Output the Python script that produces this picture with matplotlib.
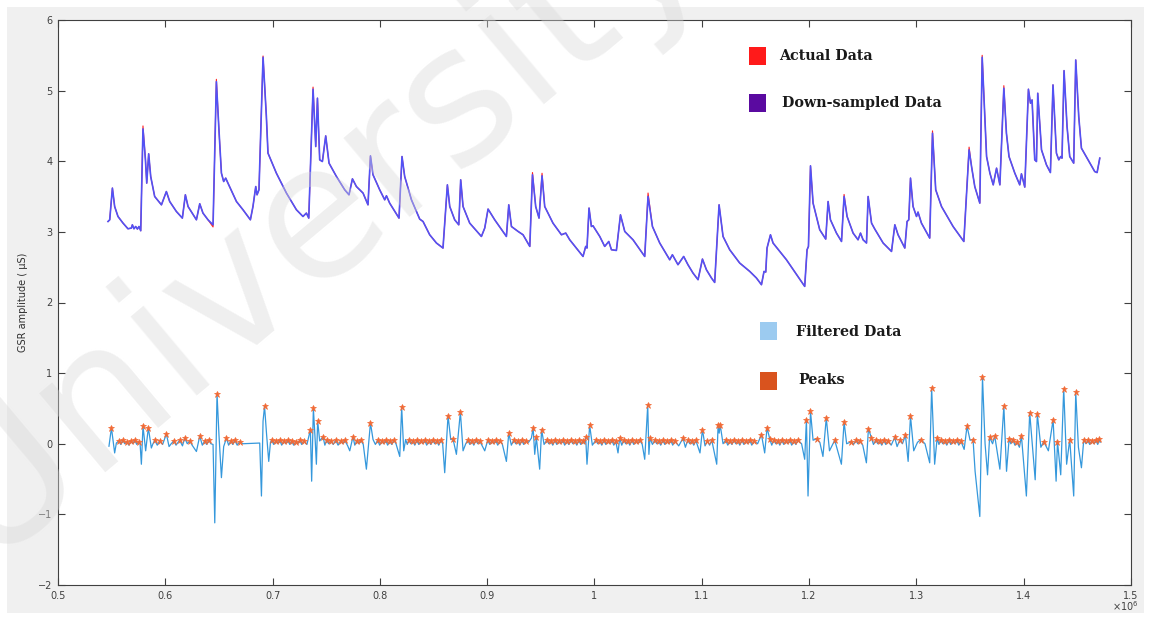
import numpy as np
import matplotlib
matplotlib.use("Agg")
import matplotlib.pyplot as plt
from matplotlib.patches import Rectangle

# GSR signal (x in units of 1e6 samples, y in uS)
gsr_x = [0.5466, 0.5482, 0.5507, 0.5528, 0.5559, 0.5606, 0.5652, 0.5684, 0.5693, 0.5708,
         0.5724, 0.5740, 0.5755, 0.5771, 0.5792, 0.5815, 0.5827, 0.5845, 0.5864, 0.5901,
         0.5964, 0.6010, 0.6041, 0.6103, 0.6159, 0.6187, 0.6212, 0.6290, 0.6321, 0.6351,
         0.6398, 0.6445, 0.6476, 0.6500, 0.6523, 0.6544, 0.6563, 0.6584, 0.6663, 0.6724,
         0.6793, 0.6817, 0.6843, 0.6855, 0.6873, 0.6911, 0.6942, 0.6957, 0.7035, 0.7129,
         0.7222, 0.7283, 0.7315, 0.7337, 0.7377, 0.7402, 0.7418, 0.7439, 0.7464, 0.7495,
         0.7526, 0.7595, 0.7672, 0.7712, 0.7744, 0.7781, 0.7843, 0.7889, 0.7912, 0.7936,
         0.7998, 0.8045, 0.8061, 0.8091, 0.8178, 0.8206, 0.8231, 0.8294, 0.8371, 0.8402,
         0.8464, 0.8527, 0.8588, 0.8629, 0.8651, 0.8697, 0.8735, 0.8753, 0.8775, 0.8837,
         0.8946, 0.8977, 0.9008, 0.9070, 0.9179, 0.9201, 0.9226, 0.9288, 0.9334, 0.9397,
         0.9422, 0.9452, 0.9483, 0.9511, 0.9536, 0.9613, 0.9692, 0.9732, 0.9769, 0.9893,
         0.9918, 0.9930, 0.9949, 0.9971, 0.9986, 1.0049, 1.0095, 1.0133, 1.0158, 1.0204,
         1.0242, 1.0282, 1.0359, 1.0468, 1.0499, 1.0540, 1.0608, 1.0701, 1.0726, 1.0778,
         1.0831, 1.0871, 1.0918, 1.0965, 1.1006, 1.1043, 1.1090, 1.1120, 1.1161, 1.1198,
         1.1260, 1.1353, 1.1447, 1.1509, 1.1556, 1.1580, 1.1596, 1.1608, 1.1640, 1.1664,
         1.1789, 1.1959, 1.1981, 1.1994, 1.2013, 1.2037, 1.2099, 1.2155, 1.2177, 1.2199,
         1.2255, 1.2302, 1.2326, 1.2354, 1.2410, 1.2456, 1.2479, 1.2503, 1.2535, 1.2550,
         1.2582, 1.2612, 1.2690, 1.2768, 1.2799, 1.2829, 1.2892, 1.2913, 1.2929, 1.2945,
         1.2969, 1.3001, 1.3015, 1.3047, 1.3124, 1.3150, 1.3180, 1.3234, 1.3342, 1.3442,
         1.3491, 1.3514, 1.3544, 1.3591, 1.3613, 1.3638, 1.3654, 1.3685, 1.3716, 1.3747,
         1.3778, 1.3815, 1.3839, 1.3863, 1.3917, 1.3963, 1.3979, 1.4010, 1.4044, 1.4063,
         1.4078, 1.4103, 1.4119, 1.4131, 1.4166, 1.4212, 1.4249, 1.4273, 1.4305, 1.4327,
         1.4345, 1.4357, 1.4376, 1.4404, 1.4429, 1.4466, 1.4485, 1.4513, 1.4538, 1.4600,
         1.4662, 1.4684, 1.4709]
gsr_y = [3.147, 3.171, 3.620, 3.359, 3.218, 3.124, 3.044, 3.054, 3.100, 3.044,
         3.076, 3.040, 3.076, 3.016, 4.458, 4.020, 3.690, 4.105, 3.784, 3.501,
         3.383, 3.571, 3.430, 3.289, 3.195, 3.525, 3.359, 3.171, 3.398, 3.266,
         3.171, 3.100, 5.127, 4.444, 3.832, 3.713, 3.761, 3.690, 3.430, 3.313,
         3.171, 3.359, 3.642, 3.525, 3.596, 5.472, 4.632, 4.115, 3.832, 3.549,
         3.313, 3.218, 3.266, 3.195, 5.020, 4.208, 4.893, 4.020, 3.996, 4.359,
         3.973, 3.784, 3.596, 3.525, 3.751, 3.642, 3.549, 3.383, 4.076, 3.808,
         3.596, 3.454, 3.511, 3.407, 3.195, 4.067, 3.784, 3.454, 3.181, 3.147,
         2.959, 2.842, 2.771, 3.666, 3.359, 3.171, 3.100, 3.737, 3.359, 3.124,
         2.935, 3.054, 3.323, 3.171, 2.935, 3.383, 3.076, 3.006, 2.959, 2.794,
         3.808, 3.359, 3.195, 3.794, 3.359, 3.124, 2.959, 2.983, 2.888, 2.652,
         2.794, 2.771, 3.337, 3.076, 3.086, 2.935, 2.794, 2.864, 2.747, 2.737,
         3.242, 3.006, 2.888, 2.652, 3.501, 3.076, 2.842, 2.605, 2.676, 2.535,
         2.652, 2.535, 2.417, 2.323, 2.615, 2.464, 2.347, 2.284, 3.383, 2.935,
         2.747, 2.559, 2.440, 2.347, 2.252, 2.440, 2.431, 2.771, 2.959, 2.842,
         2.605, 2.228, 2.747, 2.794, 3.935, 3.407, 3.030, 2.898, 3.430, 3.171,
         2.983, 2.864, 3.501, 3.218, 2.983, 2.888, 2.983, 2.888, 2.842, 3.501,
         3.124, 3.040, 2.842, 2.723, 3.100, 2.959, 2.771, 3.147, 3.171, 3.761,
         3.359, 3.218, 3.280, 3.124, 2.912, 4.397, 3.596, 3.359, 3.076, 2.864,
         4.161, 3.925, 3.642, 3.407, 5.472, 4.632, 4.067, 3.832, 3.666, 3.902,
         3.666, 5.034, 4.397, 4.067, 3.832, 3.666, 3.822, 3.634, 5.020, 4.822,
         4.868, 4.020, 3.996, 4.963, 4.161, 3.949, 3.840, 5.081, 4.115, 4.020,
         4.067, 4.044, 5.283, 4.491, 4.067, 3.973, 5.434, 4.632, 4.185, 4.020,
         3.854, 3.840, 4.044]

# tips where the full-rate (actual) data sits above the down-sampled one
actual_tip_x = [0.5792, 0.6445, 0.6476, 0.6911, 0.7377, 0.9422, 0.9511, 1.0499,
                1.2326, 1.3150, 1.3491, 1.3613, 1.3815]
actual_tip_y = [4.50, 3.07, 5.16, 5.49, 5.05, 3.84, 3.83, 3.55,
                3.53, 4.43, 4.20, 5.50, 5.07]

# peaks found on the filtered signal
peak_x = [0.5498, 0.5566, 0.5603, 0.5641, 0.5678, 0.5715, 0.5752, 0.5792, 0.5842, 0.5902,
          0.5948, 0.6010, 0.6079, 0.6134, 0.6181, 0.6228, 0.6321, 0.6367, 0.6405, 0.6482,
          0.6570, 0.6610, 0.6647, 0.6694, 0.6925, 0.6992, 0.7029, 0.7066, 0.7104, 0.7141,
          0.7178, 0.7215, 0.7253, 0.7290, 0.7352, 0.7380, 0.7420, 0.7470, 0.7504, 0.7541,
          0.7588, 0.7635, 0.7672, 0.7749, 0.7784, 0.7821, 0.7912, 0.7979, 0.8017, 0.8054,
          0.8091, 0.8129, 0.8203, 0.8269, 0.8306, 0.8343, 0.8381, 0.8418, 0.8455, 0.8492,
          0.8530, 0.8567, 0.8635, 0.8681, 0.8750, 0.8819, 0.8856, 0.8893, 0.8930, 0.9005,
          0.9042, 0.9079, 0.9117, 0.9201, 0.9247, 0.9285, 0.9322, 0.9359, 0.9428, 0.9458,
          0.9507, 0.9555, 0.9592, 0.9630, 0.9667, 0.9704, 0.9741, 0.9779, 0.9816, 0.9853,
          0.9890, 0.9918, 0.9955, 1.0012, 1.0049, 1.0086, 1.0124, 1.0161, 1.0198, 1.0235,
          1.0273, 1.0310, 1.0347, 1.0385, 1.0422, 1.0496, 1.0517, 1.0561, 1.0598, 1.0636,
          1.0673, 1.0710, 1.0747, 1.0825, 1.0869, 1.0906, 1.0944, 1.1006, 1.1053, 1.1093,
          1.1152, 1.1171, 1.1223, 1.1261, 1.1298, 1.1335, 1.1373, 1.1410, 1.1447, 1.1484,
          1.1556, 1.1608, 1.1633, 1.1670, 1.1708, 1.1745, 1.1782, 1.1820, 1.1857, 1.1894,
          1.1975, 1.2013, 1.2069, 1.2160, 1.2239, 1.2326, 1.2395, 1.2435, 1.2472, 1.2553,
          1.2581, 1.2621, 1.2658, 1.2696, 1.2733, 1.2798, 1.2845, 1.2898, 1.2945, 1.3041,
          1.3142, 1.3193, 1.3227, 1.3264, 1.3302, 1.3339, 1.3376, 1.3414, 1.3472, 1.3528,
          1.3616, 1.3682, 1.3730, 1.3815, 1.3864, 1.3898, 1.3938, 1.3979, 1.4056, 1.4127,
          1.4187, 1.4274, 1.4315, 1.4373, 1.4429, 1.4485, 1.4560, 1.4597, 1.4635, 1.4672,
          1.4703]
peak_y = [0.225, 0.04, 0.05, 0.03, 0.04, 0.05, 0.03, 0.25, 0.225, 0.05,
          0.04, 0.14, 0.04, 0.05, 0.08, 0.04, 0.11, 0.04, 0.05, 0.705,
          0.08, 0.04, 0.05, 0.03, 0.53, 0.05, 0.04, 0.05, 0.04, 0.05,
          0.04, 0.03, 0.05, 0.04, 0.20, 0.50, 0.32, 0.10, 0.05, 0.04,
          0.05, 0.04, 0.05, 0.10, 0.04, 0.05, 0.295, 0.05, 0.04, 0.05,
          0.04, 0.05, 0.52, 0.05, 0.04, 0.05, 0.04, 0.05, 0.04, 0.05,
          0.04, 0.05, 0.40, 0.07, 0.45, 0.05, 0.04, 0.05, 0.04, 0.05,
          0.04, 0.05, 0.04, 0.15, 0.05, 0.04, 0.05, 0.04, 0.225, 0.09,
          0.20, 0.05, 0.04, 0.05, 0.04, 0.05, 0.04, 0.05, 0.04, 0.05,
          0.04, 0.09, 0.26, 0.05, 0.04, 0.05, 0.04, 0.05, 0.04, 0.08,
          0.05, 0.04, 0.05, 0.04, 0.05, 0.545, 0.08, 0.05, 0.04, 0.05,
          0.04, 0.05, 0.04, 0.08, 0.05, 0.04, 0.05, 0.20, 0.04, 0.05,
          0.27, 0.27, 0.05, 0.04, 0.05, 0.04, 0.05, 0.04, 0.05, 0.04,
          0.13, 0.225, 0.07, 0.05, 0.04, 0.05, 0.04, 0.05, 0.04, 0.05,
          0.34, 0.46, 0.07, 0.365, 0.05, 0.31, 0.03, 0.05, 0.04, 0.215,
          0.08, 0.05, 0.04, 0.05, 0.04, 0.09, 0.05, 0.12, 0.39, 0.06,
          0.79, 0.08, 0.05, 0.04, 0.05, 0.04, 0.05, 0.04, 0.25, 0.06,
          0.94, 0.09, 0.11, 0.53, 0.07, 0.06, 0.02, 0.11, 0.44, 0.42,
          0.03, 0.34, 0.03, 0.78, 0.06, 0.73, 0.06, 0.05, 0.04, 0.05,
          0.07]

# remaining samples of the filtered signal (troughs and shoulders between peaks)
filt_x = [0.5475, 0.5528, 0.5544, 0.5585, 0.5622, 0.5660, 0.5697, 0.5734, 0.5765, 0.5777,
          0.5817, 0.5870, 0.5885, 0.5925, 0.5975, 0.6035, 0.6055, 0.6100, 0.6160, 0.6205,
          0.6250, 0.6290, 0.6345, 0.6385, 0.6425, 0.6445, 0.6461, 0.6500, 0.6523, 0.6544,
          0.6590, 0.6628, 0.6670, 0.6720, 0.6880, 0.6896, 0.6911, 0.6944, 0.6964, 0.6980,
          0.7010, 0.7048, 0.7085, 0.7122, 0.7160, 0.7196, 0.7234, 0.7271, 0.7320, 0.7364,
          0.7398, 0.7408, 0.7439, 0.7487, 0.7522, 0.7565, 0.7610, 0.7654, 0.7700, 0.7719,
          0.7766, 0.7802, 0.7845, 0.7874, 0.7936, 0.7958, 0.7998, 0.8035, 0.8072, 0.8110,
          0.8150, 0.8185, 0.8222, 0.8240, 0.8255, 0.8288, 0.8325, 0.8362, 0.8400, 0.8436,
          0.8474, 0.8511, 0.8548, 0.8585, 0.8604, 0.8660, 0.8713, 0.8775, 0.8800, 0.8838,
          0.8875, 0.8912, 0.8950, 0.8977, 0.9024, 0.9060, 0.9098, 0.9140, 0.9179, 0.9225,
          0.9266, 0.9304, 0.9340, 0.9385, 0.9412, 0.9443, 0.9489, 0.9530, 0.9574, 0.9611,
          0.9648, 0.9685, 0.9722, 0.9760, 0.9798, 0.9835, 0.9872, 0.9905, 0.9930, 0.9980,
          1.0030, 1.0068, 1.0105, 1.0142, 1.0180, 1.0219, 1.0254, 1.0291, 1.0329, 1.0366,
          1.0404, 1.0445, 1.0468, 1.0507, 1.0540, 1.0580, 1.0617, 1.0655, 1.0692, 1.0729,
          1.0785, 1.0847, 1.0888, 1.0925, 1.0983, 1.1030, 1.1073, 1.1139, 1.1162, 1.1198,
          1.1242, 1.1280, 1.1317, 1.1354, 1.1392, 1.1428, 1.1466, 1.1520, 1.1586, 1.1652,
          1.1690, 1.1727, 1.1764, 1.1801, 1.1838, 1.1876, 1.1930, 1.1959, 1.1990, 1.2037,
          1.2100, 1.2129, 1.2190, 1.2301, 1.2350, 1.2415, 1.2453, 1.2500, 1.2534, 1.2600,
          1.2640, 1.2677, 1.2714, 1.2765, 1.2820, 1.2870, 1.2923, 1.2975, 1.3010, 1.3080,
          1.3124, 1.3170, 1.3210, 1.3246, 1.3283, 1.3320, 1.3358, 1.3395, 1.3445, 1.3500,
          1.3547, 1.3591, 1.3640, 1.3663, 1.3710, 1.3778, 1.3840, 1.3880, 1.3918, 1.3960,
          1.4025, 1.4080, 1.4107, 1.4160, 1.4230, 1.4302, 1.4345, 1.4400, 1.4466, 1.4510,
          1.4538, 1.4580, 1.4615, 1.4655, 1.4690, 1.4712]
filt_y = [-0.035, -0.13, 0.01, -0.01, 0.0, -0.02, 0.0, -0.01, 0.0, -0.29,
          -0.10, -0.06, 0.0, -0.02, -0.01, -0.04, 0.0, -0.02, -0.03, 0.0,
          -0.02, -0.11, -0.02, -0.01, 0.0, -0.01, -1.12, 0.13, -0.48, -0.04,
          -0.02, -0.01, -0.02, 0.0, 0.01, -0.74, 0.32, 0.13, -0.25, 0.02,
          -0.01, 0.0, -0.02, 0.0, -0.01, -0.02, 0.0, -0.01, -0.01, -0.53,
          0.02, -0.29, 0.04, -0.02, 0.0, -0.01, -0.02, 0.0, -0.03, -0.10,
          -0.02, 0.0, -0.01, -0.36, 0.06, -0.01, -0.02, 0.0, -0.02, -0.01,
          0.0, -0.18, -0.10, 0.06, -0.01, 0.0, -0.02, -0.01, 0.0, -0.02,
          -0.01, 0.0, -0.02, 0.0, -0.41, 0.06, -0.15, -0.10, 0.0, -0.01,
          -0.02, 0.0, -0.02, -0.10, -0.01, 0.0, -0.02, 0.0, -0.25, -0.02,
          0.0, -0.02, -0.01, 0.02, 0.08, -0.15, -0.36, -0.01, 0.0, -0.02,
          -0.01, 0.0, -0.02, -0.01, 0.0, -0.02, -0.01, 0.0, -0.29, -0.02,
          0.0, -0.02, -0.01, 0.0, -0.02, -0.13, -0.02, 0.0, -0.02, -0.01,
          0.0, -0.01, -0.22, -0.15, -0.01, 0.0, -0.02, -0.01, 0.0, -0.02,
          -0.03, -0.05, 0.0, -0.02, -0.13, -0.03, -0.02, -0.29, 0.15, 0.0,
          -0.02, -0.01, 0.0, -0.02, -0.01, 0.0, -0.02, 0.0, -0.13, -0.02,
          0.0, -0.02, -0.01, 0.0, -0.02, -0.01, 0.0, -0.22, -0.74, 0.05,
          0.02, -0.18, -0.10, -0.29, 0.0, -0.01, 0.0, -0.02, -0.27, -0.01,
          0.0, -0.02, -0.01, -0.02, -0.04, 0.0, -0.25, -0.10, 0.02, 0.0,
          -0.27, -0.29, -0.01, 0.0, -0.02, -0.01, 0.0, -0.02, -0.08, 0.05,
          -0.39, -1.03, 0.0, -0.44, 0.0, -0.36, -0.39, 0.0, -0.02, -0.05,
          -0.74, 0.0, -0.51, -0.05, -0.10, -0.53, -0.44, -0.29, -0.74, -0.05,
          -0.34, 0.0, -0.01, 0.0, -0.01, 0.02]

legend_labels = ["Actual Data", "Down-sampled Data", "Filtered Data", "Peaks"]
legend_colors = ["#ff1a1a", "#5a0aa0", "#9ccbf0", "#d9531e"]

W, H = 1151, 620
fig = plt.figure(figsize=(W / 100, H / 100), dpi=100, facecolor="white")
fig.patches.append(Rectangle((7 / W, 7 / H), 1 - 14 / W, 1 - 14 / H, transform=fig.transFigure,
                             facecolor="#f0f0f0", edgecolor="none", zorder=-10))

ax = fig.add_axes([58 / W, 1 - 585 / H, (1131 - 58) / W, (585 - 20) / H])
ax.set_facecolor("white")

# down-sampled over actual: red only shows where the actual tips stick out
act_y = np.array(gsr_y, dtype=float)
gx = np.array(gsr_x)
for tx, ty in zip(actual_tip_x, actual_tip_y):
    act_y[np.argmin(np.abs(gx - tx))] = ty
ax.plot(gx, act_y, color="#ff2020", lw=0.8, zorder=3)
ax.plot(gx, gsr_y, color="#5252f5", lw=1.2, zorder=4)

# filtered signal runs through its peaks
fx = np.concatenate([filt_x, peak_x])
fy = np.concatenate([filt_y, peak_y])
order = np.argsort(fx)
ax.plot(fx[order], fy[order], color="#3598dc", lw=0.9, zorder=3)
ax.plot(peak_x, peak_y, ls="none", marker="*", ms=4.5, color="#f26a35", mew=0.5, zorder=5)

ax.set_xlim(0.5, 1.5)
ax.set_ylim(-2, 6)
ax.set_xticks(np.arange(0.5, 1.51, 0.1))
ax.set_xticklabels(["0.5", "0.6", "0.7", "0.8", "0.9", "1", "1.1", "1.2", "1.3", "1.4", "1.5"])
ax.set_yticks(range(-2, 7))
ax.tick_params(direction="in", top=True, right=True, length=5, width=0.8,
               labelsize=7, colors="#404040", pad=4)
for s in ax.spines.values():
    s.set_color("#404040")
    s.set_linewidth(0.8)
ax.set_ylabel("GSR amplitude ( \u00b5S)", fontsize=7, color="#303030", labelpad=7)
fig.text(1112 / W, 1 - 611 / H, r"$\times10^{6}$", fontsize=7, color="#404040")

# legend drawn as coloured squares with serif labels
leg_pos = [(749, 47, 779, 56), (749, 94, 782, 103), (760, 322, 796, 332), (760, 372, 798, 380)]
for (sx, sy, tx, ty), lab, col in zip(leg_pos, legend_labels, legend_colors):
    fig.patches.append(Rectangle((sx / W, 1 - (sy + 18) / H), 17 / W, 18 / H,
                                 transform=fig.transFigure, facecolor=col, edgecolor="none", zorder=6))
    fig.text(tx / W, 1 - ty / H, lab, fontsize=10.3, fontweight="bold", family="DejaVu Serif",
             color="#1a1a1a", va="center", ha="left", zorder=6)

# faint watermark
fig.text(-15 / W, 1 - 560 / H, "University", fontsize=135, color="#d8d8d8", alpha=0.4,
         rotation=40, rotation_mode="anchor", ha="left", va="baseline", zorder=2)

fig.savefig("out.png", dpi=100, facecolor="white")
